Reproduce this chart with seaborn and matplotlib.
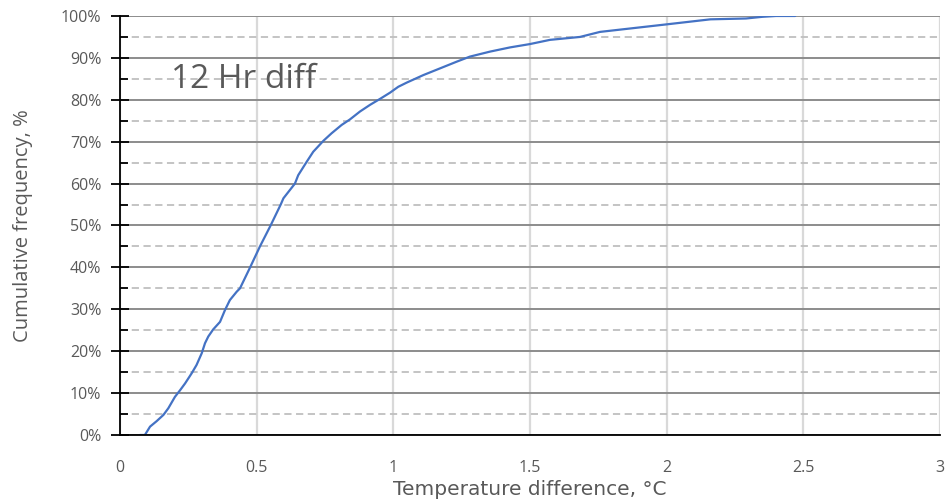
import matplotlib
matplotlib.use('Agg')
from matplotlib import pyplot as plt
from matplotlib.ticker import MultipleLocator, FuncFormatter
import seaborn as sns
import pandas as pd

# temperature difference (deg C) and cumulative frequency (%)
temp_diff = [0.073, 0.091, 0.11, 0.134, 0.159, 0.177, 0.201, 0.22, 0.238, 0.262,
             0.28, 0.299, 0.311, 0.323, 0.341, 0.366, 0.384, 0.402, 0.427, 0.439,
             0.476, 0.512, 0.551, 0.588, 0.598, 0.64, 0.652, 0.683, 0.707, 0.744,
             0.774, 0.811, 0.841, 0.878, 0.915, 0.951, 0.988, 1.018, 1.049, 1.11,
             1.171, 1.232, 1.28, 1.354, 1.427, 1.5, 1.573, 1.683, 1.756, 2.0,
             2.12, 2.16, 2.29, 2.35, 2.40, 2.47]
cum_freq = [0, 0, 2, 3.3, 4.8, 6.4, 9.1, 10.7, 12.3, 14.7,
            16.7, 19.5, 21.9, 23.5, 25.2, 27, 29.8, 32.2, 34.2, 35,
            40, 45, 50, 55, 56.5, 60, 62, 65.2, 67.6, 70.2,
            72, 74, 75.3, 77.2, 78.8, 80.2, 81.7, 83.1, 84.1, 85.9,
            87.5, 89.1, 90.3, 91.5, 92.5, 93.3, 94.3, 95, 96.2, 98,
            98.9, 99.2, 99.4, 99.8, 100, 100]
x_ticks = [0, 0.5, 1, 1.5, 2, 2.5, 3]
x_tick_labels = ['0', '0.5', '1', '1.5', '2', '2.5', '3']

df = pd.DataFrame({'diff': temp_diff, 'freq': cum_freq})

sns.set_style('white')
plt.rcParams['font.family'] = ['Open Sans', 'DejaVu Sans']

fig = plt.figure(figsize=(9.5, 5.04), dpi=100)
ax = fig.add_axes([0.1263, 0.1369, 0.8632, 0.8314])

sns.lineplot(data=df, x='diff', y='freq', ax=ax, color='#4472C4', linewidth=1.6, zorder=5)

ax.set_xlim(0, 3)
ax.set_ylim(0, 100)
ax.set_xticks(x_ticks)
ax.set_xticklabels(x_tick_labels)
ax.yaxis.set_major_locator(MultipleLocator(10))
ax.yaxis.set_minor_locator(MultipleLocator(5))
ax.yaxis.set_major_formatter(FuncFormatter(lambda v, p: '%d%%' % v))

ax.grid(False)
ax.set_axisbelow(True)
ax.xaxis.grid(True, color='#D9D9D9', linewidth=1.6)
ax.yaxis.grid(True, which='major', color='#8C8C8C', linewidth=1.4)
ax.yaxis.grid(True, which='minor', color='#BFBFBF', linewidth=1.3, linestyle=(0, (4, 2.5)))

for s in ['top', 'right']:
    ax.spines[s].set_visible(False)
ax.spines['left'].set_color('black')
ax.spines['left'].set_linewidth(1.3)
ax.spines['bottom'].set_color('black')
ax.spines['bottom'].set_linewidth(1.3)
ax.spines['bottom'].set_zorder(6)

ax.tick_params(axis='y', which='major', direction='inout', length=13, width=1.3,
               color='black', labelsize=11.5, labelcolor='#595959', pad=7, left=True)
ax.tick_params(axis='y', which='minor', direction='in', length=6, width=1.3,
               color='black', left=True)
ax.tick_params(axis='x', length=0, labelsize=11.5, labelcolor='#595959', pad=18)

ax.set_xlabel('Temperature difference, °C', fontsize=14.5, color='#595959', labelpad=3,
              family='DejaVu Sans')
ax.set_ylabel('Cumulative frequency, %', fontsize=14.5, color='#595959', labelpad=20)

ax.text(0.185, 82.7, '12 Hr diff', fontsize=24, color='#595959', va='baseline', ha='left')

plt.savefig('out.png', dpi=100)
